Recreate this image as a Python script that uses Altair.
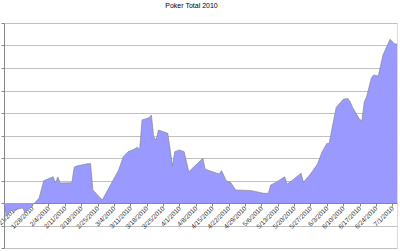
import altair as alt
import pandas as pd

dates = [
    "2010-01-16", "2010-01-17", "2010-01-19", "2010-01-24", "2010-01-25", "2010-01-29",
    "2010-01-31", "2010-02-02", "2010-02-06", "2010-02-07", "2010-02-08", "2010-02-09",
    "2010-02-14", "2010-02-15", "2010-02-16", "2010-02-20", "2010-02-22", "2010-02-23",
    "2010-02-27", "2010-03-06", "2010-03-08", "2010-03-10", "2010-03-12", "2010-03-14",
    "2010-03-15", "2010-03-16", "2010-03-19", "2010-03-20", "2010-03-21", "2010-03-22",
    "2010-03-23", "2010-03-27", "2010-03-28", "2010-03-29", "2010-03-30", "2010-04-01",
    "2010-04-03", "2010-04-05", "2010-04-11", "2010-04-12", "2010-04-18", "2010-04-19",
    "2010-04-21", "2010-04-23", "2010-04-25", "2010-05-02", "2010-05-07", "2010-05-09",
    "2010-05-10", "2010-05-12", "2010-05-16", "2010-05-17", "2010-05-19", "2010-05-23",
    "2010-05-24", "2010-05-27", "2010-05-30", "2010-06-01", "2010-06-03", "2010-06-04",
    "2010-06-05", "2010-06-07", "2010-06-10", "2010-06-12", "2010-06-13", "2010-06-14",
    "2010-06-17", "2010-06-18", "2010-06-19", "2010-06-20", "2010-06-22", "2010-06-23",
    "2010-06-25", "2010-06-27", "2010-06-28", "2010-06-30", "2010-07-02", "2010-07-03",
]
totals = [
    0.0, -0.58, -0.34, -0.22, -0.43, -0.01,
    0.22, 0.99, 1.17, 0.89, 1.16, 0.89,
    0.90, 1.59, 1.64, 1.73, 1.76, 0.58,
    0.13, 1.47, 2.06, 2.28, 2.36, 2.48,
    2.39, 3.69, 3.79, 3.91, 2.95, 2.80,
    3.24, 3.10, 2.39, 1.64, 2.28, 2.36,
    2.28, 1.39, 1.99, 1.50, 1.29, 1.44,
    0.99, 0.90, 0.58, 0.55, 0.43, 0.43,
    0.80, 0.90, 1.17, 0.84, 0.99, 1.32,
    0.92, 1.29, 1.73, 2.28, 2.65, 2.65,
    3.20, 4.25, 4.61, 4.65, 4.50, 4.25,
    3.72, 3.66, 4.50, 4.72, 5.54, 5.69,
    5.64, 6.58, 6.80, 7.28, 7.07, 7.07,
]
tick_dates = [
    (1, 21), (1, 28), (2, 4), (2, 11), (2, 18), (2, 25), (3, 4), (3, 11), (3, 18),
    (3, 25), (4, 1), (4, 8), (4, 15), (4, 22), (4, 29), (5, 6), (5, 13), (5, 20),
    (5, 27), (6, 3), (6, 10), (6, 17), (6, 24), (7, 1),
]
y_grid = [-2, -1, 0, 1, 2, 3, 4, 5, 6, 7, 8]

df = pd.DataFrame({"date": [d + "T00:00:00" for d in dates], "total": totals})

x_enc = alt.X(
    "date:T",
    scale=alt.Scale(domain=[alt.DateTime(year=2010, month=1, date=16),
                            alt.DateTime(year=2010, month=7, date=3)]),
    axis=alt.Axis(
        title=None,
        values=[alt.DateTime(year=2010, month=m, date=d) for m, d in tick_dates],
        format="%-m/%-d/%Y",
        labelAngle=-45,
        labelAlign="right",
        labelBaseline="middle",
        labelFontSize=6.5,
        labelFont="Liberation Sans",
        labelColor="#333333",
        labelPadding=1,
        labelOverlap=False,
        labelFlush=False,
        labelBound=False,
        tickSize=3,
        tickColor="#888888",
        domainColor="#888888",
        grid=False,
        offset=-45,
    ),
)
y_enc = alt.Y(
    "total:Q",
    scale=alt.Scale(domain=[-2, 8], nice=False),
    axis=alt.Axis(
        title=None,
        labels=False,
        values=y_grid,
        tickSize=3,
        tickColor="#888888",
        domainColor="#888888",
        gridColor="#c0c0c0",
        gridWidth=1,
    ),
)

area = alt.Chart(df).mark_area(color="#9999ff", opacity=1).encode(x=x_enc, y=y_enc)
edge = alt.Chart(df).mark_line(color="#808080", strokeWidth=0.6).encode(x=x_enc, y=y_enc)

chart = (
    alt.layer(area, edge)
    .properties(
        width=393,
        height=225,
        autosize=alt.AutoSizeParams(type="none"),
        padding={"left": 4, "top": 23, "right": 3, "bottom": 3},
        title=alt.TitleParams(
            "Poker Total 2010",
            fontSize=7,
            fontWeight="normal",
            font="Liberation Sans",
            color="#000000",
            offset=8,
            dx=-9,
            baseline="alphabetic",
        ),
    )
    .configure_view(stroke="#c0c0c0", strokeWidth=1)
    .configure(background="white")
)

chart.save("out.html", embed_options={"renderer": "svg", "actions": False})
